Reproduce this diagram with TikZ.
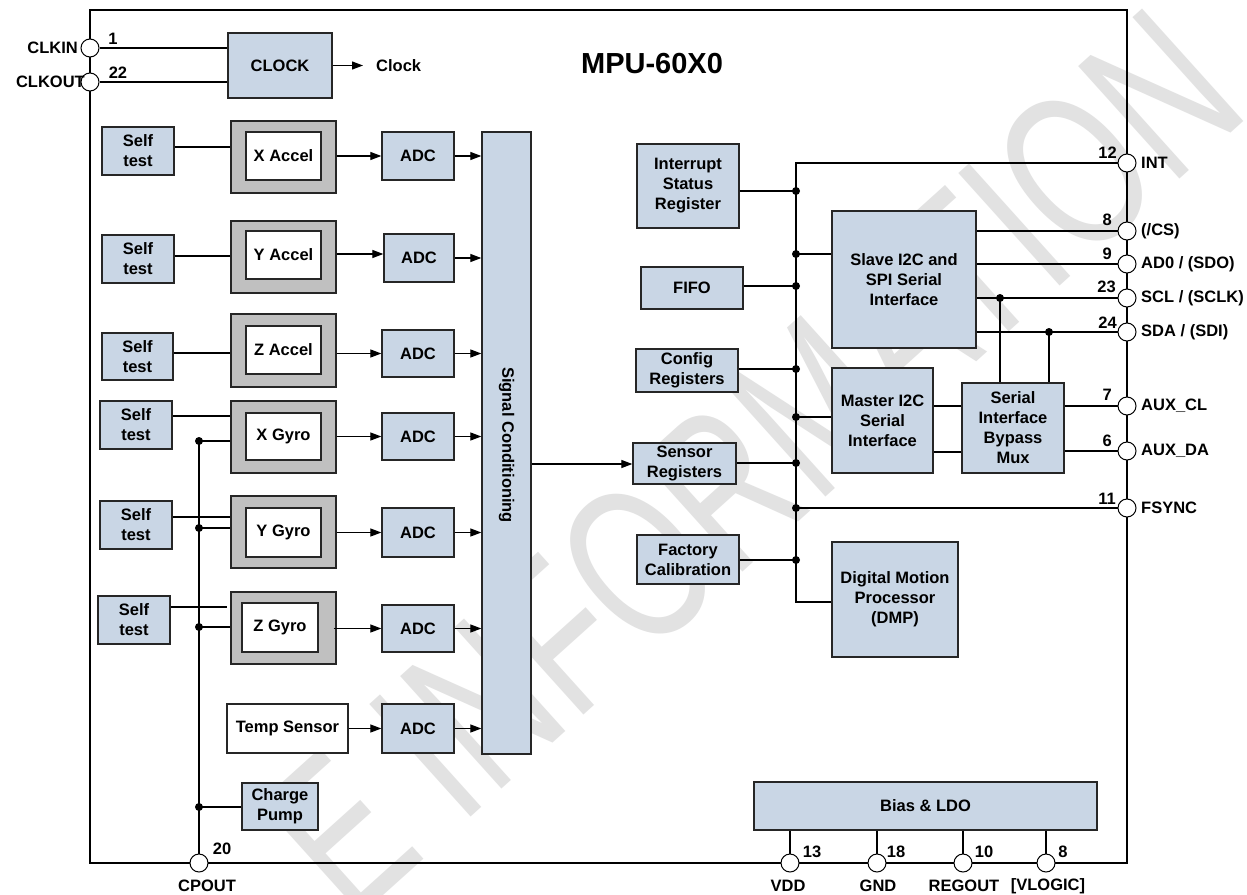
\documentclass[tikz,border=0pt]{standalone}
\usepackage{fontspec}
\setmainfont{Liberation Sans}
\usetikzlibrary{arrows.meta}
\definecolor{boxblue}{HTML}{C9D6E5}
\definecolor{framegray}{HTML}{C0C0C0}
\definecolor{wmgray}{HTML}{E2E2E2}
\begin{document}
\begin{tikzpicture}[x=1pt,y=-1pt,
  font=\fontsize{16.5}{20}\selectfont\bfseries,
  blk/.style={draw=black!85,line width=1.3pt,fill=boxblue,inner sep=0pt,align=center},
  outerbox/.style={draw=black!85,line width=1.3pt,fill=framegray,inner sep=0pt,minimum width=105pt,minimum height=72pt},
  innerbox/.style={draw=black!85,line width=1.3pt,fill=white,inner sep=0pt,align=center},
  pin/.style={circle,draw=black,line width=1pt,fill=white,minimum size=18pt,inner sep=0pt},
  dot/.style={circle,fill=black,minimum size=8pt,inner sep=0pt},
  wire/.style={line width=1.2pt},
  arr/.style={line width=1.2pt,-{Triangle[length=11pt,width=8pt]}},
  lbl/.style={inner sep=0pt},
  stbox/.style={blk,minimum width=72pt,minimum height=48pt},
  adcbox/.style={blk,minimum width=72pt,minimum height=48pt},
]
\useasboundingbox (0,0) rectangle (1247,894);
\fill[white] (0,0) rectangle (1247,894);
% watermark
\begin{scope}
\clip (0,0) rectangle (1247,894);
\node[text=wmgray,rotate=42,inner sep=0pt,font=\mdseries] (wmark) at (752,462)
  {\scalebox{0.7}[1]{\fontsize{220}{220}\selectfont\mdseries E INFORMATION}};
\end{scope}

% chip frame
\draw[line width=1.2pt] (90,10) rectangle (1127,863);

% title
\node[lbl,font=\fontsize{29}{32}\selectfont\bfseries] (title) at (652,64) {MPU-60X0};

% clock
\node[blk,minimum width=104pt,minimum height=65pt] (clock) at (280,65.5) {CLOCK};
\coordinate (clkend) at (363,65.5);
\node[lbl,anchor=west] (clocklbl) at (376,66) {Clock};

% left sensors
\node[stbox] (st1) at (138,151) {Self\\test};
\node[outerbox] (xacc) at (283.5,157) {};
\node[innerbox,minimum width=75pt,minimum height=48pt] (xacci) at (283.5,156) {X Accel};
\node[adcbox] (adc1) at (418,156) {ADC};

\node[stbox] (st2) at (138,259) {Self\\test};
\node[outerbox] (yacc) at (283.5,257) {};
\node[innerbox,minimum width=75pt,minimum height=48pt] (yacci) at (283.5,255) {Y Accel};
\node[adcbox,minimum width=70pt] (adc2) at (419,258) {ADC};

\node[stbox,minimum width=71pt,minimum height=47pt] (st3) at (137.5,356.5) {Self\\test};
\node[outerbox,minimum height=73pt] (zacc) at (283.5,350.5) {};
\node[innerbox,minimum width=75pt,minimum height=48pt] (zacci) at (283.5,350) {Z Accel};
\node[adcbox,minimum height=47pt] (adc3) at (418,353.5) {ADC};

\node[stbox] (st4) at (136,425) {Self\\test};
\node[outerbox] (xgyro) at (283.5,437) {};
\node[innerbox,minimum width=75pt,minimum height=47pt] (xgyroi) at (283.5,436.5) {X Gyro};
\node[adcbox,minimum height=47pt] (adc4) at (418,436.5) {ADC};

\node[stbox] (st5) at (136,525) {Self\\test};
\node[outerbox] (ygyro) at (283.5,532) {};
\node[innerbox,minimum width=75pt,minimum height=49pt] (ygyroi) at (283.5,532.5) {Y Gyro};
\node[adcbox,minimum height=49pt] (adc5) at (418,532.5) {ADC};

\node[stbox] (st6) at (134,620) {Self\\test};
\node[outerbox] (zgyro) at (283.5,628) {};
\node[innerbox,minimum width=76pt,minimum height=49pt] (zgyroi) at (280,627.5) {Z Gyro};
\node[adcbox,minimum height=47pt] (adc6) at (418,628.5) {ADC};

\node[innerbox,minimum width=121pt,minimum height=49pt] (temp) at (287.5,728.5) {Temp Sensor};
\node[adcbox,minimum height=49pt] (adc7) at (418,728.5) {ADC};

\node[blk,minimum width=76pt,minimum height=47pt] (cpump) at (280,806.5) {Charge\\Pump};

% signal conditioning
\node[blk,minimum width=49pt,minimum height=622pt] (sc) at (506.5,443) {};
\node[lbl,rotate=-90] (sctext) at (506.5,445) {Signal Conditioning};

% right blocks
\node[blk,minimum width=102pt,minimum height=84pt] (isr) at (688,186) {Interrupt\\Status\\Register};
\node[blk,minimum width=102pt,minimum height=42pt] (fifo) at (692,288) {FIFO};
\node[blk,minimum width=102pt,minimum height=43pt] (cfg) at (687,370.5) {Config\\Registers};
\node[blk,minimum width=103pt,minimum height=41pt] (sreg) at (684.5,463.5) {Sensor\\Registers};
\node[blk,minimum width=102pt,minimum height=49pt] (fcal) at (688,559.5) {Factory\\Calibration};
\node[blk,minimum width=144pt,minimum height=137pt] (slave) at (904,279.5) {Slave I2C and\\SPI Serial\\Interface};
\node[blk,minimum width=101pt,minimum height=105pt] (master) at (882.5,420.5) {Master I2C\\Serial\\Interface};
\node[blk,minimum width=102pt,minimum height=90pt] (mux) at (1013,428) {Serial\\Interface\\Bypass\\Mux};
\node[blk,minimum width=126pt,minimum height=115pt] (dmp) at (895,599.5) {Digital Motion\\Processor\\(DMP)};
\node[blk,minimum width=343pt,minimum height=48pt] (bias) at (925.5,806) {Bias \& LDO};

% pins
\node[pin] (pclkin) at (90,48) {};
\node[pin] (pclkout) at (90,82) {};
\node[pin] (pcpout) at (199,863) {};
\node[pin] (pvdd) at (790,863) {};
\node[pin] (pgnd) at (877,863) {};
\node[pin] (pregout) at (963,863) {};
\node[pin] (pvlogic) at (1046,863) {};
\node[pin] (pint) at (1127,163) {};
\node[pin] (pcs) at (1127,231) {};
\node[pin] (pado) at (1127,264) {};
\node[pin] (pscl) at (1127,298) {};
\node[pin] (psda) at (1127,332) {};
\node[pin] (pauxcl) at (1127,406) {};
\node[pin] (pauxda) at (1127,451) {};
\node[pin] (pfsync) at (1127,508) {};

% pin labels
\node[lbl,anchor=east] (lclkin) at (78,48) {CLKIN};
\node[lbl,anchor=east] (lclkout) at (85,82) {CLKOUT};
\node[lbl] (n1) at (113,39) {1};
\node[lbl] (n22) at (118,73) {22};
\node[lbl] (n20) at (222,849) {20};
\node[lbl] (lcpout) at (207,886) {CPOUT};
\node[lbl] (n13) at (812,852) {13};
\node[lbl] (n18) at (896,852) {18};
\node[lbl] (n10) at (984,852) {10};
\node[lbl] (n8b) at (1063,852) {8};
\node[lbl] (lvdd) at (788,886) {VDD};
\node[lbl] (lgnd) at (878,886) {GND};
\node[lbl] (lregout) at (964,886) {REGOUT};
\node[lbl] (lvlogic) at (1048,886) {[VLOGIC]};
\node[lbl,anchor=east] (n12) at (1117,153) {12};
\node[lbl,anchor=east] (n8) at (1112,220) {8};
\node[lbl,anchor=east] (n9) at (1112,254) {9};
\node[lbl,anchor=east] (n23) at (1116,287) {23};
\node[lbl,anchor=east] (n24) at (1117,323) {24};
\node[lbl,anchor=east] (n7) at (1112,395) {7};
\node[lbl,anchor=east] (n6) at (1112,441) {6};
\node[lbl,anchor=east] (n11) at (1116,499) {11};
\node[lbl,anchor=west] (lint) at (1141,163) {INT};
\node[lbl,anchor=west] (lcs) at (1141,231) {(/CS)};
\node[lbl,anchor=west] (lado) at (1141,264) {AD0 / (SDO)};
\node[lbl,anchor=west] (lscl) at (1141,298) {SCL / (SCLK)};
\node[lbl,anchor=west] (lsda) at (1141,332) {SDA / (SDI)};
\node[lbl,anchor=west] (lauxcl) at (1141,406) {AUX\_CL};
\node[lbl,anchor=west] (lauxda) at (1141,451) {AUX\_DA};
\node[lbl,anchor=west] (lfsync) at (1141,508) {FSYNC};

% clock wiring
\draw[wire] (pclkin.east) -- (pclkin.east -| clock.west);
\draw[wire] (pclkout.east) -- (pclkout.east -| clock.west);
\draw[arr] (clock.east) -- (clkend);

% accel wiring
\draw[wire] (st1.east |- 0,147) -- (xacc.west |- 0,147);
\draw[wire] (st2.east |- 0,256) -- (yacc.west |- 0,256);
\draw[wire] (st3.east |- 0,353) -- (zacc.west |- 0,353);
\draw[arr] (xacc.east |- adc1.west) -- (adc1.west);
\draw[arr] (yacc.east |- 0,254) -- (adc2.west |- 0,254);
\draw[arr] (zacc.east |- adc3.west) -- (adc3.west);
% gyro wiring
\draw[wire] (st4.east |- 0,416) -- (xgyro.west |- 0,416);
\draw[wire] (st5.east |- 0,517) -- (ygyro.west |- 0,517);
\draw[wire] (st6.east |- 0,607) -- ([xshift=-3pt]zgyro.west |- 0,607);
\draw[arr] (xgyro.east |- adc4.west) -- (adc4.west);
\draw[arr] (ygyro.east |- adc5.west) -- (adc5.west);
\draw[arr] ([xshift=-3pt]zgyro.east |- adc6.west) -- (adc6.west);
\draw[arr] (temp.east) -- (adc7.west);
% adc to sc
\foreach \a in {adc1,adc2,adc3,adc4,adc5,adc6,adc7}
  \draw[arr] (\a.east) -- (\a.east -| sc.west);

% cpout rail
\node[dot] (g1) at (199,441) {};
\node[dot] (g2) at (199,528) {};
\node[dot] (g3) at (199,627) {};
\node[dot] (g4) at (199,807) {};
\draw[wire] (g1.center) -- (pcpout.north);
\draw[wire] (g1.center) -- (g1.center -| xgyro.west);
\draw[wire] (g2.center) -- (g2.center -| ygyro.west);
\draw[wire] (g3.center) -- (g3.center -| zgyro.west);
\draw[wire] (g4.center) -- (g4.center -| cpump.west);

% sc to sensor registers
\draw[arr] (sc.east |- 0,464) -- (sreg.west |- 0,464);

% bus
\coordinate (btop) at (796,163);
\coordinate (bbot) at (796,602);
\node[dot] (bisr) at (796,191) {};
\node[dot] (bsl) at (796,254) {};
\node[dot] (bfi) at (796,286) {};
\node[dot] (bcf) at (796,369) {};
\node[dot] (bma) at (796,417) {};
\node[dot] (bsr) at (796,463) {};
\node[dot] (bfs) at (796,508) {};
\node[dot] (bfc) at (796,560) {};
\draw[wire] (pint.west) -- (btop) -- (bbot) -- (bbot -| dmp.west);
\draw[wire] (isr.east |- bisr) -- (bisr.center);
\draw[wire] (bsl.center) -- (bsl.center -| slave.west);
\draw[wire] (fifo.east |- bfi) -- (bfi.center);
\draw[wire] (cfg.east |- bcf) -- (bcf.center);
\draw[wire] (bma.center) -- (bma.center -| master.west);
\draw[wire] (sreg.east |- bsr) -- (bsr.center);
\draw[wire] (bfs.center) -- (pfsync.west);
\draw[wire] (fcal.east |- bfc) -- (bfc.center);

% slave interface pins
\draw[wire] (slave.east |- pcs) -- (pcs.west);
\draw[wire] (slave.east |- pado) -- (pado.west);
\draw[wire] (slave.east |- pscl) -- (pscl.west);
\draw[wire] (slave.east |- psda) -- (psda.west);
\node[dot] (dscl) at (1000,298) {};
\node[dot] (dsda) at (1049,332) {};
\draw[wire] (dscl.center) -- (dscl.center |- mux.north);
\draw[wire] (dsda.center) -- (dsda.center |- mux.north);
\draw[wire] (master.east |- 0,406) -- (mux.west |- 0,406);
\draw[wire] (master.east |- 0,452) -- (mux.west |- 0,452);
\draw[wire] (mux.east |- pauxcl) -- (pauxcl.west);
\draw[wire] (mux.east |- pauxda) -- (pauxda.west);

% bias pins
\draw[wire] (pvdd.north |- bias.south) -- (pvdd.north);
\draw[wire] (pgnd.north |- bias.south) -- (pgnd.north);
\draw[wire] (pregout.north |- bias.south) -- (pregout.north);
\draw[wire] (pvlogic.north |- bias.south) -- (pvlogic.north);
\end{tikzpicture}
\end{document}
